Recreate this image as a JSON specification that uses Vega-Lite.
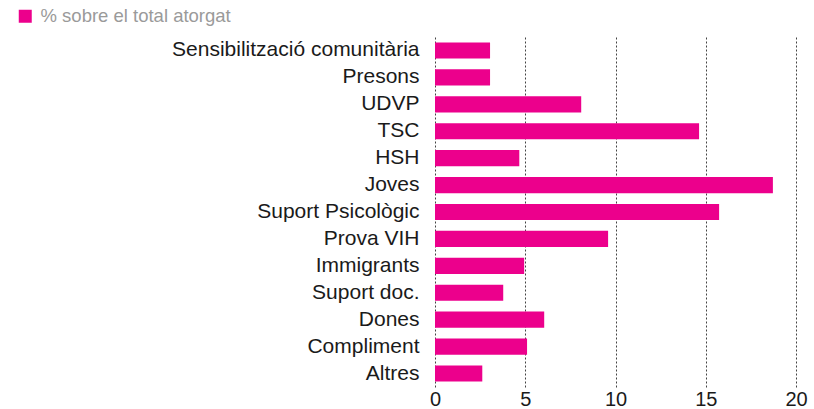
{
  "$schema": "https://vega.github.io/schema/vega-lite/v6.json",
  "autosize": "none",
  "width": 361,
  "height": 350,
  "padding": {"left": 435, "top": 37, "right": 18, "bottom": 22},
  "background": "white",
  "data": {
    "values": [
      {"categoria": "Sensibilització comunitària", "valor": 3.05, "serie": "% sobre el total atorgat"},
      {"categoria": "Presons", "valor": 3.05, "serie": "% sobre el total atorgat"},
      {"categoria": "UDVP", "valor": 8.1, "serie": "% sobre el total atorgat"},
      {"categoria": "TSC", "valor": 14.63, "serie": "% sobre el total atorgat"},
      {"categoria": "HSH", "valor": 4.67, "serie": "% sobre el total atorgat"},
      {"categoria": "Joves", "valor": 18.72, "serie": "% sobre el total atorgat"},
      {"categoria": "Suport Psicològic", "valor": 15.74, "serie": "% sobre el total atorgat"},
      {"categoria": "Prova VIH", "valor": 9.59, "serie": "% sobre el total atorgat"},
      {"categoria": "Immigrants", "valor": 4.94, "serie": "% sobre el total atorgat"},
      {"categoria": "Suport doc.", "valor": 3.78, "serie": "% sobre el total atorgat"},
      {"categoria": "Dones", "valor": 6.05, "serie": "% sobre el total atorgat"},
      {"categoria": "Compliment", "valor": 5.1, "serie": "% sobre el total atorgat"},
      {"categoria": "Altres", "valor": 2.62, "serie": "% sobre el total atorgat"}
    ]
  },
  "mark": {"type": "bar"},
  "encoding": {
    "y": {
      "field": "categoria",
      "type": "nominal",
      "sort": null,
      "title": null,
      "scale": {"paddingInner": 0.4, "paddingOuter": 0.2},
      "axis": {
        "domain": false,
        "ticks": false,
        "labelFont": "Liberation Sans",
        "labelFontSize": 21,
        "labelColor": "#1a1a1a",
        "labelPadding": 16,
        "labelLimit": 400
      }
    },
    "x": {
      "field": "valor",
      "type": "quantitative",
      "title": null,
      "scale": {"domain": [0, 20], "nice": false},
      "axis": {
        "values": [0, 5, 10, 15, 20],
        "domain": false,
        "ticks": false,
        "grid": true,
        "gridColor": "#444",
        "gridDash": [2, 2],
        "gridWidth": 1,
        "labelFont": "Liberation Sans",
        "labelFontSize": 20,
        "labelColor": "#1a1a1a",
        "labelPadding": 2,
        "labelFlush": false
      }
    },
    "color": {
      "field": "serie",
      "type": "nominal",
      "scale": {"range": ["#EC008C"]},
      "legend": {
        "title": null,
        "orient": "none",
        "legendX": -419,
        "legendY": -30,
        "symbolType": "square",
        "symbolSize": 169,
        "symbolStrokeWidth": 0,
        "labelFont": "Liberation Sans",
        "labelFontSize": 18.5,
        "labelColor": "#9a9a9a",
        "labelOffset": 6,
        "labelLimit": 400
      }
    }
  },
  "config": {"view": {"stroke": null}}
}
